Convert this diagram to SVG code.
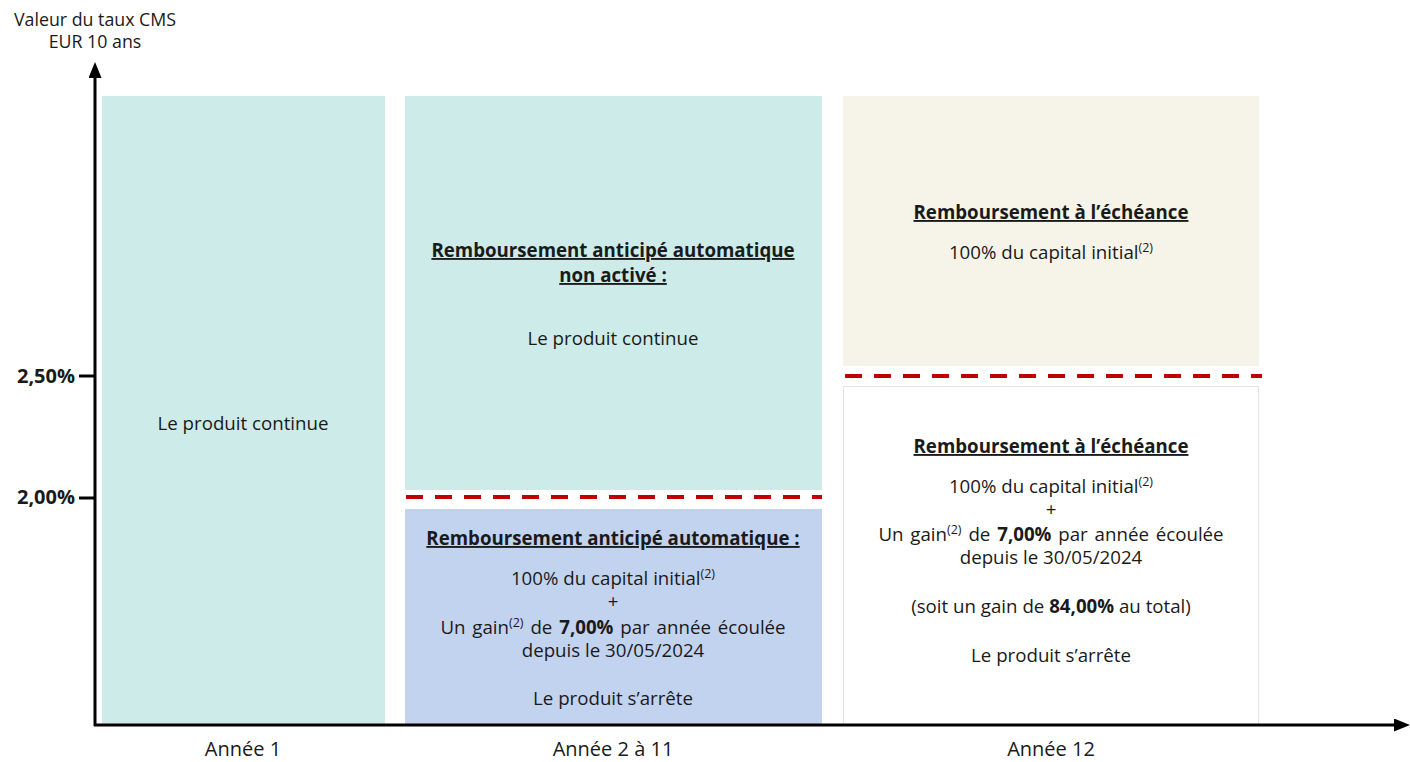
<svg xmlns="http://www.w3.org/2000/svg" width="1410" height="762" viewBox="0 0 1410 762">
<style>
text{font-family:"Open Sans","Noto Sans","DejaVu Sans",sans-serif;fill:#1a1a1a;text-anchor:middle;font-size:18.7px}
.b{font-weight:bold}
.u{font-weight:bold;text-decoration:underline}
.sup{font-size:12.5px}
.ax{font-size:17.8px}
.xl{font-size:20px}
.ws{word-spacing:2px}
.tick{font-weight:bold;font-size:20px;text-anchor:end}
.dash{stroke:#C00000;stroke-width:4;stroke-dasharray:17 12;fill:none}
</style>
<defs>
<marker id="arr" viewBox="0 0 16 13" refX="6" refY="6.5" markerWidth="16" markerHeight="13" markerUnits="userSpaceOnUse" orient="auto">
<path d="M0,0 L16,6.5 L0,13 z" fill="#000"/>
</marker>
</defs>
<rect width="1410" height="762" fill="#fff"/>
<g id="box-annee1">
<rect x="102" y="96" width="283" height="629" fill="#CCEBE9"/>
<text x="243" y="430">Le produit continue</text>
</g>
<g id="box-annee2-top">
<rect x="405" y="96" width="417" height="394" fill="#CCEBE9"/>
<text x="613" y="257" class="u">Remboursement anticipé automatique</text>
<text x="613" y="282" class="u">non activé :</text>
<text x="613" y="345">Le produit continue</text>
</g>
<g id="box-annee2-bottom">
<rect x="405" y="509" width="417" height="216" fill="#C2D3F0"/>
<text x="613" y="545" class="u">Remboursement anticipé automatique :</text>
<text x="613" y="585">100% du capital initial<tspan class="sup" dy="-7">(2)</tspan></text>
<text x="613" y="608">+</text>
<text x="613" y="634" class="ws">Un gain<tspan class="sup" dy="-7">(2)</tspan><tspan dy="7"> de </tspan><tspan class="b">7,00%</tspan> par année écoulée</text>
<text x="613" y="657">depuis le 30/05/2024</text>
<text x="613" y="705">Le produit s’arrête</text>
</g>
<g id="box-annee12-top">
<rect x="843" y="96" width="416" height="270" fill="#F6F3E8"/>
<text x="1051" y="219" class="u">Remboursement à l’échéance</text>
<text x="1051" y="259">100% du capital initial<tspan class="sup" dy="-7">(2)</tspan></text>
</g>
<g id="box-annee12-bottom">
<rect x="843.5" y="386.5" width="415" height="339" fill="#fff" stroke="#E3E3E3" stroke-width="1"/>
<text x="1051" y="453" class="u">Remboursement à l’échéance</text>
<text x="1051" y="493">100% du capital initial<tspan class="sup" dy="-7">(2)</tspan></text>
<text x="1051" y="516">+</text>
<text x="1051" y="541" class="ws">Un gain<tspan class="sup" dy="-7">(2)</tspan><tspan dy="7"> de </tspan><tspan class="b">7,00%</tspan> par année écoulée</text>
<text x="1051" y="564">depuis le 30/05/2024</text>
<text x="1051" y="613">(soit un gain de <tspan class="b">84,00%</tspan> au total)</text>
<text x="1051" y="662">Le produit s’arrête</text>
</g>
<g id="connectors">
<line class="dash" x1="406" y1="497" x2="822" y2="497"/>
<line class="dash" x1="845" y1="376" x2="1262" y2="376"/>
<line x1="95" y1="726" x2="95" y2="72" stroke="#000" stroke-width="3" marker-end="url(#arr)"/>
<line x1="94" y1="725" x2="1400" y2="725" stroke="#000" stroke-width="3" marker-end="url(#arr)"/>
<line x1="79" y1="376" x2="95" y2="376" stroke="#000" stroke-width="3"/>
<line x1="79" y1="498" x2="95" y2="498" stroke="#000" stroke-width="3"/>
</g>
<g id="axis-labels">
<text x="95" y="26" class="ax">Valeur du taux CMS</text>
<text x="95" y="48" class="ax">EUR 10 ans</text>
<text x="75" y="383" class="tick">2,50%</text>
<text x="75" y="504" class="tick">2,00%</text>
<text x="243" y="756" class="xl">Année 1</text>
<text x="613" y="756" class="xl">Année 2 à 11</text>
<text x="1051" y="756" class="xl">Année 12</text>
</g>
</svg>
